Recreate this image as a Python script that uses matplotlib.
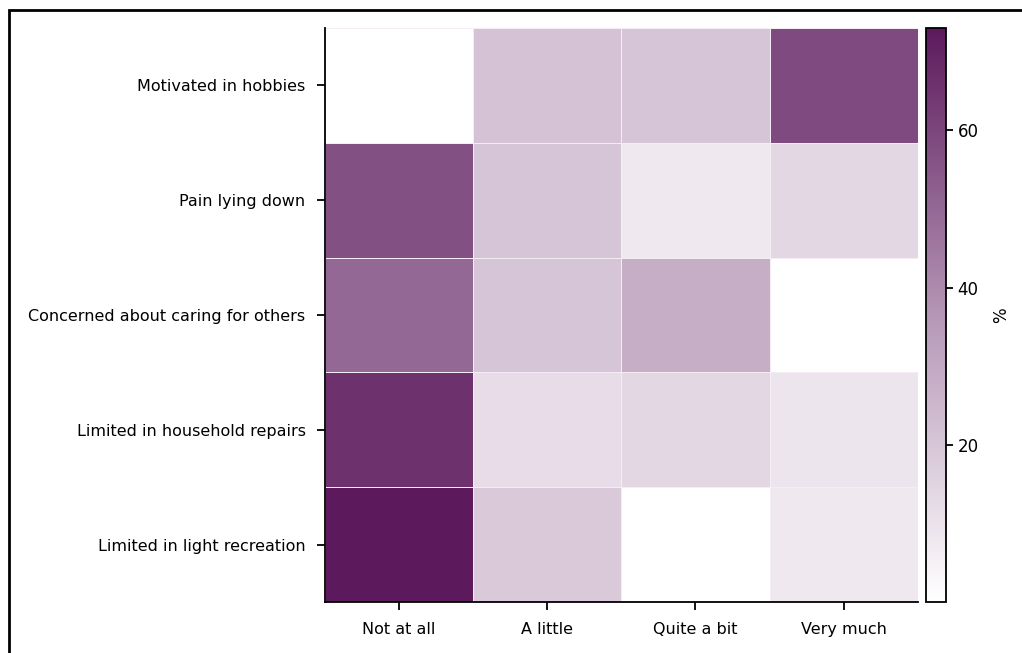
import matplotlib

matplotlib.use('Agg')
import matplotlib.pyplot as plt
import numpy as np
from matplotlib.colors import LinearSegmentedColormap
from matplotlib.patches import Rectangle

# Share of responses (%) for each item and answer category
items = [
    'Limited in light recreation',
    'Limited in household repairs',
    'Concerned about caring for others',
    'Pain lying down',
    'Motivated in hobbies',
]
answers = ['Not at all', 'A little', 'Quite a bit', 'Very much']
not_at_all = [73, 66, 50, 57, 0]
a_little = [19, 12, 20, 20, 21]
quite_a_bit = [0, 14, 28, 8, 20]
very_much = [8, 9, 0, 14, 59]

values = np.column_stack([not_at_all, a_little, quite_a_bit, very_much])

cmap = LinearSegmentedColormap.from_list('purples', ['#ffffff', '#b596b6', '#5c1a5c'])

fig = plt.figure(figsize=(10.22, 6.53), dpi=100)
ax = fig.add_axes([0.318, 0.078, 0.580, 0.879])
cax = fig.add_axes([0.906, 0.078, 0.020, 0.879])

mesh = ax.pcolormesh(values, cmap=cmap, vmin=0, vmax=73,
                     edgecolors='#f4eef4', linewidth=0.5)

ax.set_xticks(np.arange(len(answers)) + 0.5)
ax.set_xticklabels(answers)
ax.set_yticks(np.arange(len(items)) + 0.5)
ax.set_yticklabels(items)
ax.set_xlim(0, len(answers))
ax.set_ylim(0, len(items))
for side in ('top', 'right'):
    ax.spines[side].set_visible(False)
for side in ('left', 'bottom'):
    ax.spines[side].set_linewidth(1.3)
ax.tick_params(axis='both', length=6, width=1.3, pad=8, labelsize=11.5)

cb = fig.colorbar(mesh, cax=cax)
cb.set_ticks([20, 40, 60])
cb.outline.set_linewidth(1.3)
cax.tick_params(length=5, width=1.3, labelsize=12, pad=3)
cb.set_label('%', fontsize=12, labelpad=10)

# frame around the whole figure
fig.patches.append(Rectangle((9 / 1022, -0.1), 1.2, 1 - 10 / 653 + 0.1,
                             transform=fig.transFigure, fill=False,
                             edgecolor='black', linewidth=2))

fig.savefig('out.png')
